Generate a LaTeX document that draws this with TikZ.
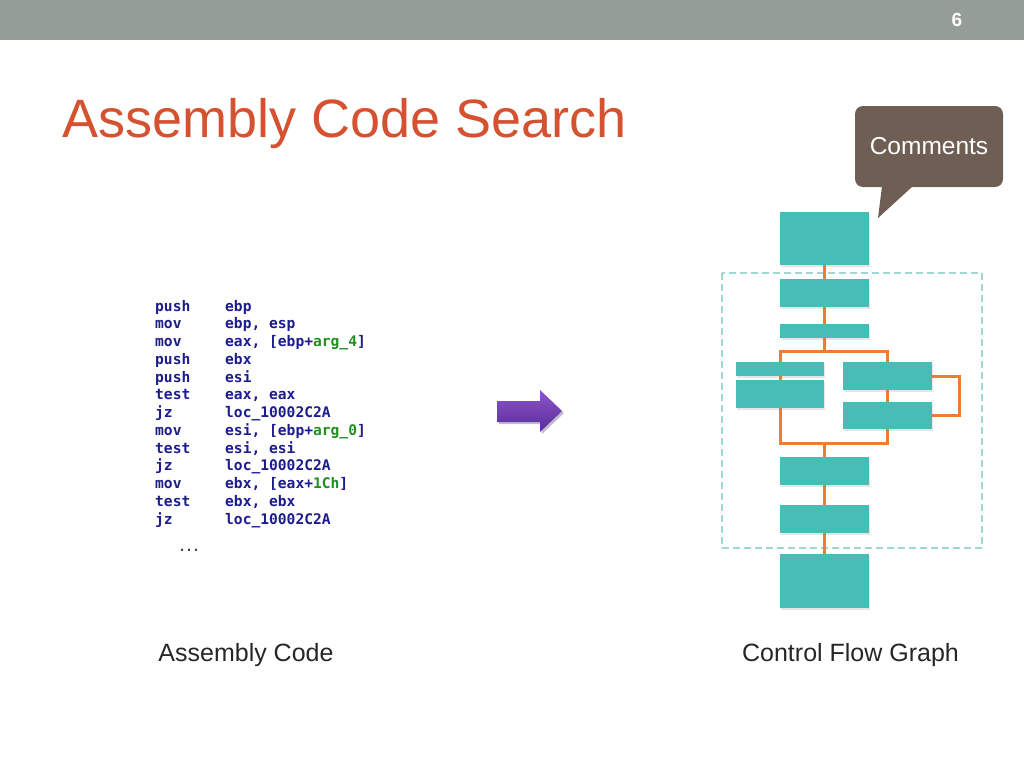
\documentclass[tikz,border=0pt]{standalone}
\usepackage{fontspec}
\setmainfont{Liberation Sans}
\newfontfamily\asmfont{DejaVu Sans Mono}
\usepackage{tikz}
\usetikzlibrary{positioning,backgrounds,shadows}

\definecolor{barGray}{HTML}{949E96}
\definecolor{titleRed}{HTML}{D4522F}
\definecolor{calloutBrown}{HTML}{6E5E54}
\definecolor{blockTeal}{HTML}{47BDB6}
\definecolor{flowOrange}{HTML}{ED7D31}
\definecolor{frameTeal}{HTML}{9FD8D2}
\definecolor{asmBlue}{HTML}{1C1C8C}
\definecolor{asmGreen}{HTML}{1F8F1F}
\definecolor{arrowLight}{HTML}{8C57CC}
\definecolor{arrowDark}{HTML}{5A2A98}

\begin{document}
\begin{tikzpicture}[
                x=1pt,y=-1pt,
                block/.style={fill=blockTeal,draw=none,inner sep=0pt,
                    drop shadow={opacity=0.2,shadow xshift=1pt,shadow yshift=-1.5pt}},
                flow/.style={draw=flowOrange,line width=3pt},
                asm/.style={anchor=base west,inner sep=0pt,text=asmBlue,
                    font=\asmfont\bfseries\fontsize{14.6}{16}\selectfont},
                caption/.style={inner sep=0pt,text=black!85,font=\fontsize{25}{30}\selectfont}
            ]
                \useasboundingbox (0,0) rectangle (1024,768);
                % slide frame
                \fill[barGray] (0,0) rectangle (1024,40);
                \node[text=white,font=\bfseries\fontsize{19}{22}\selectfont] (pagenum) at (957,20) {6};
                \node[anchor=base west,inner sep=0pt,text=titleRed,
                    font=\fontsize{54}{60}\selectfont] (title) at (62,137) {Assembly Code Search};

                % assembly listing
                \foreach \op/\args [count=\i] in {
                    push/ebp,
                    mov/{ebp, esp},
                    mov/{eax, [ebp+\textcolor{asmGreen}{arg\_4}]},
                    push/ebx,
                    push/esi,
                    test/{eax, eax},
                    jz/loc\_10002C2A,
                    mov/{esi, [ebp+\textcolor{asmGreen}{arg\_0}]},
                    test/{esi, esi},
                    jz/loc\_10002C2A,
                    mov/{ebx, [eax+\textcolor{asmGreen}{1Ch}]},
                    test/{ebx, ebx},
                    jz/loc\_10002C2A}{
                    \node[asm] (op\i) at (155,{311+(\i-1)*17.75}) {\op};
                    \node[asm] (arg\i) at (225,{311+(\i-1)*17.75}) {\args};
                }
                \node[text=black!70,font=\fontsize{22}{24}\selectfont] (dots) at (189,550) {\dots};
                \node[caption] (asmcap) at (246,655) {Assembly Code};

                % arrow between the two sides
                \fill[arrowDark!60!black,opacity=0.3]
                    (499,403) -- (542,403) -- (542,392) -- (564,413) -- (542,434)
                    -- (542,424) -- (499,424) -- cycle;
                \shade[top color=arrowLight,bottom color=arrowDark]
                    (497,401) -- (540,401) -- (540,390) -- (562,411) -- (540,432)
                    -- (540,422) -- (497,422) -- cycle;

                % control flow graph
                \node[block,minimum width=89,minimum height=53] (entry) at (824.5,238.5) {};
                \node[block,minimum width=89,minimum height=28] (b1) at (824.5,293) {};
                \node[block,minimum width=89,minimum height=14] (b2) at (824.5,331) {};
                \node[block,minimum width=88,minimum height=14] (l1) at (780,369) {};
                \node[block,minimum width=88,minimum height=28] (l2) at (780,394) {};
                \node[block,minimum width=89,minimum height=28] (r1) at (887.5,376) {};
                \node[block,minimum width=89,minimum height=27] (r2) at (887.5,415.5) {};
                \node[block,minimum width=89,minimum height=28] (b3) at (824.5,471) {};
                \node[block,minimum width=89,minimum height=28] (b4) at (824.5,519) {};
                \node[block,minimum width=89,minimum height=54] (exit) at (824.5,581) {};
                \coordinate (split) at (824.5,351);
                \coordinate (merge) at (824.5,443);

                \begin{scope}[on background layer]
                    \draw[frameTeal,line width=1.2pt,dash pattern=on 7pt off 4pt]
                        (722,273) rectangle (982,548);
                    \draw[flow] (entry) -- (b1);
                    \draw[flow] (b1) -- (b2);
                    \draw[flow] (b2) -- (split);
                    \draw[flow] (split) -| (l1.north);
                    \draw[flow] (split) -| (r1.north);
                    \draw[flow] (l1) -- (l2);
                    \draw[flow] (r1) -- (r2);
                    \draw[flow] (r1.east) -- ++(27,0) |- (r2.east);
                    \draw[flow] (l2.south) |- (merge);
                    \draw[flow] (r2.south) |- (merge);
                    \draw[flow] (merge) -- (b3);
                    \draw[flow] (b3) -- (b4);
                    \draw[flow] (b4) -- (exit);
                \end{scope}
                \node[caption] (cfgcap) at (850.5,655) {Control Flow Graph};

                % comment callout
                \node[fill=calloutBrown,rounded corners=8pt,minimum width=148,minimum height=81,
                    text=white,font=\fontsize{24.5}{28}\selectfont] (comments) at (929,146.5) {Comments};
                \fill[calloutBrown] (882,186) -- (913,186) -- (878,218) -- cycle;
            \end{tikzpicture}
\end{document}
